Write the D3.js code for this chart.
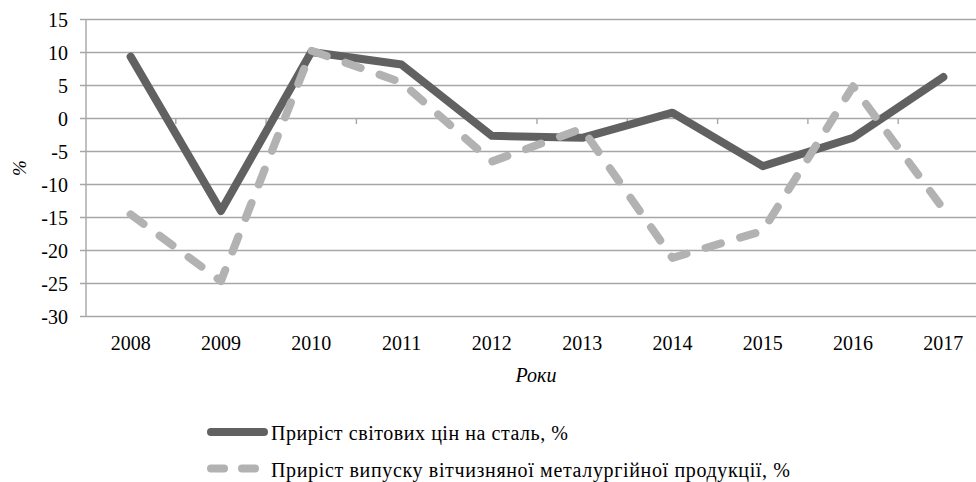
<!DOCTYPE html>
<html>
<head>
<meta charset="utf-8">
<script src="https://cdn.jsdelivr.net/npm/d3@7"></script>
</head>
<body style="margin:0;background:#fff">
<script>
let years = ["2008", "2009", "2010", "2011", "2012", "2013", "2014", "2015", "2016", "2017"];
let steelPrices = [9.3, -14.1, 10, 8.1, -2.7, -3.0, 0.8, -7.3, -3.0, 6.2];
let domesticOutput = [-14.6, -24.7, 10.2, 5.4, -6.6, -1.6, -21.2, -17.1, 4.8, -13.8];
let yTicks = [-30, -25, -20, -15, -10, -5, 0, 5, 10, 15];
let seriesNames = ["Приріст світових цін на сталь, %", "Приріст випуску вітчизняної металургійної продукції, %"];

let width = 976,
  height = 482,
  serif = "'Liberation Serif', 'Times New Roman', serif";

let svg = d3.select("body").append("svg")
  .attr("width", width)
  .attr("height", height)
  .style("font-family", serif);

let x = d3.scaleBand()
  .domain(years)
  .range([85.5, 988.5]);

let y = d3.scaleLinear()
  .domain([-30, 15])
  .range([316, 19]);

let cx = d => x(d) + x.bandwidth() / 2;

// gridlines + y ticks
let yAxis = d3.axisLeft(y)
  .tickValues(yTicks)
  .tickSize(-(width - 80))
  .tickFormat(d => String(d));

let gy = svg.append("g")
  .attr("transform", "translate(86,0)")
  .call(yAxis)
  .attr("font-family", serif);
gy.select(".domain").remove();
gy.selectAll(".tick line")
  .attr("x1", -6)
  .attr("stroke", "#a6a6a6")
  .attr("stroke-width", 1.4);
gy.selectAll(".tick text")
  .style("font-family", serif)
  .attr("font-size", 20)
  .attr("fill", "#000")
  .attr("dy", "0.35em")
  .attr("x", -18);

// vertical axis line
svg.append("line")
  .attr("x1", 86).attr("x2", 86)
  .attr("y1", y(15)).attr("y2", y(-30))
  .attr("stroke", "#a6a6a6")
  .attr("stroke-width", 1.4);

// category tick marks on the zero line
svg.append("g")
  .selectAll("line")
  .data(years.slice(1))
  .enter().append("line")
  .attr("x1", d => x(d))
  .attr("x2", d => x(d))
  .attr("y1", y(0))
  .attr("y2", y(0) + 6)
  .attr("stroke", "#a6a6a6")
  .attr("stroke-width", 1.4);

// x labels
svg.append("g")
  .selectAll("text")
  .data(years)
  .enter().append("text")
  .attr("x", cx)
  .attr("y", 350)
  .attr("text-anchor", "middle")
  .style("font-family", serif)
  .attr("font-size", 20)
  .text(d => d);

// axis titles
svg.append("text")
  .attr("transform", "translate(26,168) rotate(-90)")
  .attr("text-anchor", "middle")
  .style("font-family", serif)
  .attr("font-size", 19)
  .attr("font-style", "italic")
  .text("%");

svg.append("text")
  .attr("x", 536)
  .attr("y", 382)
  .attr("text-anchor", "middle")
  .style("font-family", serif)
  .attr("font-size", 20)
  .attr("font-style", "italic")
  .text("Роки");

let line = d3.line()
  .x((d, i) => cx(years[i]))
  .y(d => y(d));

svg.append("path")
  .datum(steelPrices)
  .attr("d", line)
  .attr("fill", "none")
  .attr("stroke", "#616161")
  .attr("stroke-width", 8)
  .attr("stroke-linejoin", "round")
  .attr("stroke-linecap", "round");

svg.append("path")
  .datum(domesticOutput)
  .attr("d", line)
  .attr("fill", "none")
  .attr("stroke", "#b2b2b2")
  .attr("stroke-width", 8)
  .attr("stroke-linejoin", "round")
  .attr("stroke-linecap", "round")
  .attr("stroke-dasharray", "16,20");

// legend
let legend = svg.append("g")
  .selectAll("g")
  .data(seriesNames)
  .enter().append("g")
  .attr("transform", (d, i) => `translate(0, ${432 + i * 36.5})`);

legend.append("line")
  .attr("x1", 211)
  .attr("x2", (d, i) => i === 0 ? 264 : 256)
  .attr("y1", 0)
  .attr("y2", 0)
  .attr("stroke", (d, i) => i === 0 ? "#616161" : "#b2b2b2")
  .attr("stroke-width", 8)
  .attr("stroke-linecap", "round")
  .attr("stroke-dasharray", (d, i) => i === 0 ? null : "13,18");

legend.append("text")
  .attr("x", 271)
  .attr("y", 8)
  .style("font-family", serif)
  .attr("font-size", 20)
  .attr("textLength", (d, i) => i === 0 ? 297 : 519)
  .attr("lengthAdjust", "spacing")
  .text(d => d);
</script>
</body>
</html>
